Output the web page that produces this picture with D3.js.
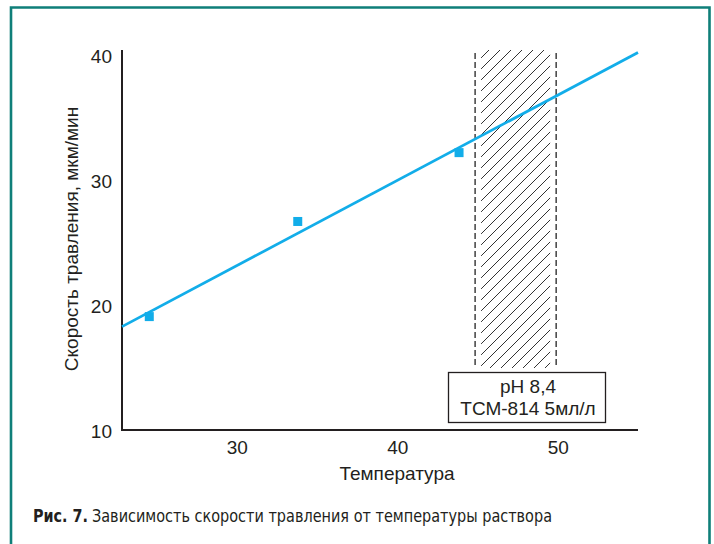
<!DOCTYPE html>
<html>
<head>
<meta charset="utf-8">
<script src="https://cdn.jsdelivr.net/npm/d3@7"></script>
<style>
  html, body { margin: 0; padding: 0; background: #fff; }
  svg { display: block; }
  text { font-family: "Liberation Sans", Arial, sans-serif; fill: #231f20; }
</style>
</head>
<body>
<svg id="chart" width="714" height="544"></svg>
<script>
// Measured etch rate vs. solution temperature
const temps = [24.55, 33.8, 43.85];
const rates = [19.1, 26.7, 32.2];

// Linear fit drawn across the whole axis range
const fitTemps = [22.85, 55];
const fitRates = [18.3, 40.2];

// Recommended working window (shaded band)
const windowTemps = [44.85, 49.9];

const xTicks = [30, 40, 50];
const yTicks = [10, 20, 30, 40];

const legendLines = ["pH 8,4", "ТСМ-814 5мл/л"];
const xTitle = "Температура";
const yTitle = "Скорость травления, мкм/мин";
const captionBold = "Рис. 7.";
const captionText = "Зависимость скорости травления от температуры раствора";

const svg = d3.select("#chart");

const x = d3.scaleLinear().domain([22.85, 55]).range([122, 638]);
const y = d3.scaleLinear().domain([10, 40]).range([430.5, 55]);
const yTop = 50;
const fs = 19;

// Outer frame (open at the bottom)
svg.append("path")
  .attr("d", `M11,560 L11,7.5 L709.5,7.5 L709.5,560`)
  .attr("fill", "none")
  .attr("stroke", "#0f7f79")
  .attr("stroke-width", 2.6);

// Hatch pattern for the working window
const defs = svg.append("defs");
const pat = defs.append("pattern")
  .attr("id", "hatch")
  .attr("patternUnits", "userSpaceOnUse")
  .attr("width", 11).attr("height", 11);
pat.append("path")
  .attr("d", "M0,11 L11,0 M-2,2 L2,-2 M9,13 L13,9")
  .attr("stroke", "#333")
  .attr("stroke-width", 1);

const bandTop = yTop, bandBottom = 368;
svg.append("rect")
  .attr("x", x(windowTemps[0]) + 6)
  .attr("y", bandTop)
  .attr("width", x(windowTemps[1]) - x(windowTemps[0]) - 12)
  .attr("height", bandBottom - bandTop)
  .attr("fill", "url(#hatch)");

svg.selectAll("line.bound")
  .data(windowTemps)
  .enter().append("line")
  .attr("class", "bound")
  .attr("x1", d => x(d)).attr("x2", d => x(d))
  .attr("y1", bandTop + 3).attr("y2", bandBottom)
  .attr("stroke", "#222")
  .attr("stroke-width", 1.3)
  .attr("stroke-dasharray", "6,3");

// Axes
const xAxis = svg.append("g")
  .attr("transform", "translate(0,430)")
  .call(d3.axisBottom(x).tickValues(xTicks).tickSize(0).tickPadding(11).tickFormat(d3.format("d")));
xAxis.select(".domain").remove();
xAxis.selectAll("text").attr("font-size", fs).attr("fill", "#231f20");
svg.append("line")
  .attr("x1", x.range()[0] - 1).attr("x2", x.range()[1])
  .attr("y1", 430).attr("y2", 430)
  .attr("stroke", "#231f20").attr("stroke-width", 2);

const yAxis = svg.append("g")
  .attr("transform", "translate(122,0)")
  .call(d3.axisLeft(y).tickValues(yTicks).tickSize(0).tickPadding(10).tickFormat(d3.format("d")));
yAxis.select(".domain").remove();
yAxis.selectAll("text").attr("font-size", fs).attr("fill", "#231f20").attr("dy", "0.37em");
svg.append("line")
  .attr("x1", 122).attr("x2", 122)
  .attr("y1", yTop).attr("y2", 431)
  .attr("stroke", "#231f20").attr("stroke-width", 2);

// Axis titles
svg.append("text")
  .attr("x", 397).attr("y", 480)
  .attr("text-anchor", "middle")
  .attr("font-size", fs)
  .text(xTitle);

svg.append("text")
  .attr("transform", "translate(78,239) rotate(-90)")
  .attr("text-anchor", "middle")
  .attr("font-size", fs)
  .text(yTitle);

// Fit line
const line = d3.line().x(d => x(d[0])).y(d => y(d[1]));
svg.append("path")
  .datum(d3.zip(fitTemps, fitRates))
  .attr("d", line)
  .attr("fill", "none")
  .attr("stroke", "#12ade9")
  .attr("stroke-width", 2.8);

// Measured points
const sq = 9;
svg.selectAll("rect.pt")
  .data(d3.zip(temps, rates))
  .enter().append("rect")
  .attr("class", "pt")
  .attr("x", d => x(d[0]) - sq / 2)
  .attr("y", d => y(d[1]) - sq / 2)
  .attr("width", sq).attr("height", sq)
  .attr("fill", "#12ade9");

// Legend box
const lg = svg.append("g");
lg.append("rect")
  .attr("x", 448.5).attr("y", 372.5)
  .attr("width", 157).attr("height", 50)
  .attr("fill", "#fff")
  .attr("stroke", "#231f20")
  .attr("stroke-width", 1.3);
lg.selectAll("text")
  .data(legendLines)
  .enter().append("text")
  .attr("x", 528)
  .attr("y", (d, i) => 393 + i * 22)
  .attr("text-anchor", "middle")
  .attr("font-size", fs)
  .text(d => d);

// Caption: bold figure number, then the condensed title
const capFont = "'DejaVu Sans Condensed', 'DejaVu Sans', sans-serif";
svg.append("text")
  .attr("x", 33).attr("y", 522)
  .attr("font-size", 18)
  .attr("font-weight", "bold")
  .attr("textLength", 55)
  .attr("lengthAdjust", "spacingAndGlyphs")
  .style("font-family", capFont)
  .style("font-stretch", "condensed")
  .text(captionBold);
svg.append("text")
  .attr("x", 92).attr("y", 522)
  .attr("font-size", 18)
  .attr("textLength", 460)
  .attr("lengthAdjust", "spacingAndGlyphs")
  .style("font-family", capFont)
  .style("font-stretch", "condensed")
  .text(captionText);
</script>
</body>
</html>
